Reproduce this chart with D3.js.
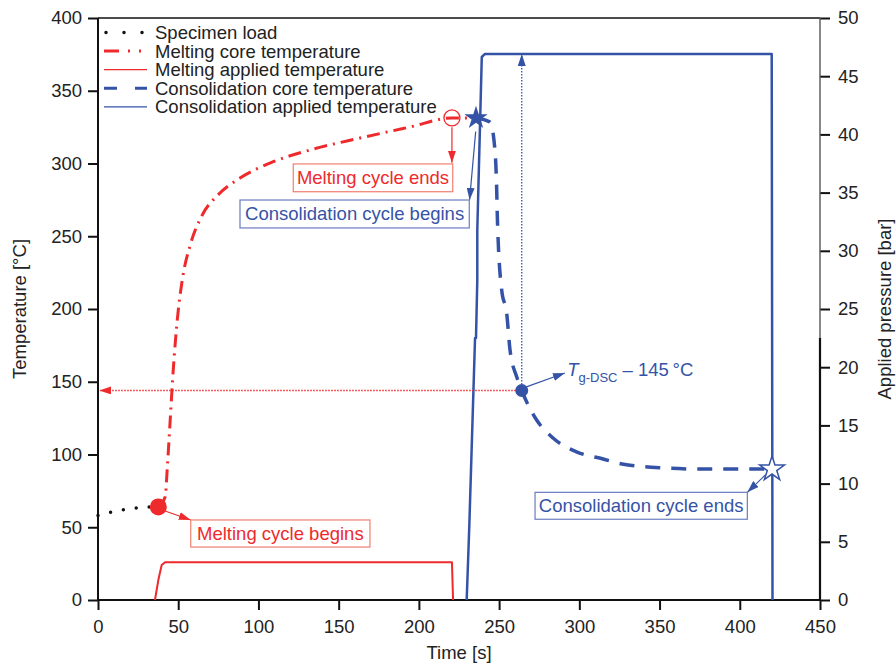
<!DOCTYPE html>
<html>
<head>
<meta charset="utf-8">
<script src="https://cdn.jsdelivr.net/npm/d3@7"></script>
<style>
  html, body { margin: 0; padding: 0; background: #fff; }
  svg { display: block; font-family: "Liberation Sans", Arial, sans-serif; }
</style>
</head>
<body>
<svg id="chart" width="896" height="664"></svg>
<script>
// time [s] / temperature [°C] pairs
const specimenLoadTime = [0, 9.3, 17.9, 27.2, 37.4];
const specimenLoadTemp = [58, 60.7, 62.3, 63.7, 64.1];

const meltCoreTime = [37.6, 41.9, 43.1, 45.0, 46.9, 49.4, 52.5, 57.5, 65.0, 74.8, 88.5, 107.2, 132.1, 163.3, 194.5, 220.6, 235.6];
const meltCoreTemp = [64, 71, 89.3, 123.7, 158.1, 192.4, 219.9, 244.0, 264.6, 278.4, 290.0, 300.3, 309.3, 317.5, 325.1, 331.3, 331.3];

const meltAppliedTime = [35.5, 37.6, 39.7, 41.8, 60, 100, 150, 200, 220.6, 221.3];
const meltAppliedTemp = [0, 13.7, 24, 25.9, 26, 26, 26, 26, 26, 0];

const consCoreTime = [235.6, 244.3, 247.4, 248.5, 248.9, 251.6, 254.7, 256.8, 261.0, 264.1, 267.2, 273.4, 283.6, 298.6, 314.8, 326.6, 353.4, 375.2, 420.1];
const consCoreTemp = [331.3, 328.5, 309.3, 281.8, 263.2, 213.1, 197.3, 171.8, 153.3, 144, 136.1, 123.7, 111.3, 101.7, 96.9, 93.5, 90.7, 90.0, 90.0];

const consAppliedTime = [229.8, 231.4, 235.0, 235.6, 236.4, 236.4, 239.2, 241.2, 300, 350, 400, 419.9, 420.4];
const consAppliedTemp = [0, 50.2, 180.1, 180.1, 219.9, 254.3, 373.2, 375.3, 375.3, 375.3, 375.3, 375.3, 0];

const xTicks = [0, 50, 100, 150, 200, 250, 300, 350, 400, 450];
const yTicks = [0, 50, 100, 150, 200, 250, 300, 350, 400];
const pressureTicks = [0, 5, 10, 15, 20, 25, 30, 35, 40, 45, 50];

const legendLabels = ["Specimen load", "Melting core temperature", "Melting applied temperature",
                      "Consolidation core temperature", "Consolidation applied temperature"];

// key points: melting begins, melting ends, consolidation begins, Tg point, consolidation ends
const meltStart = [37.6, 64];
const meltEnd = [220.6, 331.3];
const consStart = [235.6, 331.3];
const tgPoint = [264.1, 144];
const consEnd = [420.1, 90];

const RED = "#ee2a2c";
const BLUE = "#3553a6";
const FS = "18.5px";

const svg = d3.select("#chart");
const x = d3.scaleLinear().domain([0, 450]).range([98, 820]);
const y = d3.scaleLinear().domain([0, 400]).range([600, 18]);
const yR = d3.scaleLinear().domain([0, 50]).range([600, 18]);

// arrow heads
const defs = svg.append("defs");
[["arRed", RED], ["arBlue", BLUE]].forEach(([id, c]) => {
  defs.append("marker")
    .attr("id", id)
    .attr("viewBox", "0 0 12 8")
    .attr("refX", 12).attr("refY", 4)
    .attr("markerWidth", 12).attr("markerHeight", 8)
    .attr("markerUnits", "userSpaceOnUse")
    .attr("orient", "auto")
    .append("path").attr("d", "M0,0L12,4L0,8Z").attr("fill", c);
});

// axes
const axisX = svg.append("g").attr("transform", "translate(0,600)")
  .call(d3.axisBottom(x).tickValues(xTicks).tickSize(10).tickPadding(6));
const axisL = svg.append("g").attr("transform", "translate(98,0)")
  .call(d3.axisLeft(y).tickValues(yTicks).tickSize(10).tickPadding(6));
const axisR = svg.append("g").attr("transform", "translate(820,0)")
  .call(d3.axisRight(yR).tickValues(pressureTicks).tickSize(10).tickPadding(8));

[axisX, axisL, axisR].forEach(g => {
  g.select(".domain").remove();
  g.selectAll(".tick line").attr("stroke", "#111").attr("stroke-width", 2);
  g.selectAll(".tick text").attr("fill", "#222").style("font-size", FS);
});
axisX.selectAll(".tick text").attr("dy", "0.9em");

// frame
svg.append("line").attr("x1", 98).attr("x2", 820).attr("y1", 600).attr("y2", 600).attr("stroke", "#111").attr("stroke-width", 2);
svg.append("line").attr("x1", 98).attr("x2", 98).attr("y1", 18).attr("y2", 600).attr("stroke", "#111").attr("stroke-width", 2);
svg.append("line").attr("x1", 98).attr("x2", 820).attr("y1", 18).attr("y2", 18).attr("stroke", "#111").attr("stroke-width", 1.5);
svg.append("line").attr("x1", 820).attr("x2", 820).attr("y1", 18).attr("y2", 338).attr("stroke", "#555").attr("stroke-width", 1.4);
svg.append("line").attr("x1", 820).attr("x2", 820).attr("y1", 338).attr("y2", 600).attr("stroke", "#111").attr("stroke-width", 2.2);

// axis titles
svg.append("text").attr("x", 459).attr("y", 659).attr("text-anchor", "middle")
  .attr("fill", "#222").style("font-size", FS).text("Time [s]");
svg.append("text").attr("transform", "translate(26,309) rotate(-90)").attr("text-anchor", "middle")
  .attr("fill", "#222").style("font-size", FS).text("Temperature [°C]");
svg.append("text").attr("transform", "translate(891,309) rotate(-90)").attr("text-anchor", "middle")
  .attr("fill", "#222").style("font-size", FS).text("Applied pressure [bar]");

// series
const zip = (a, b) => a.map((v, i) => [v, b[i]]);
const straight = d3.line().x(d => x(d[0])).y(d => y(d[1]));
const smooth = d3.line().curve(d3.curveMonotoneX).x(d => x(d[0])).y(d => y(d[1]));

const series = [
  { t: meltAppliedTime, v: meltAppliedTemp, color: RED, width: 2, dash: null, gen: straight },
  { t: consAppliedTime, v: consAppliedTemp, color: BLUE, width: 2.5, dash: null, gen: straight },
  { t: specimenLoadTime, v: specimenLoadTemp, color: "#111", width: 3.5, dash: "0,13", cap: "round", gen: smooth },
  { t: meltCoreTime, v: meltCoreTemp, color: RED, width: 3, dash: "13,6,2,6", gen: smooth },
  { t: consCoreTime, v: consCoreTemp, color: BLUE, width: 3.5, dash: "15,11", gen: smooth }
];
series.forEach(s => {
  svg.append("path")
    .datum(zip(s.t, s.v))
    .attr("d", s.gen)
    .attr("fill", "none")
    .attr("stroke", s.color)
    .attr("stroke-width", s.width)
    .attr("stroke-dasharray", s.dash)
    .attr("stroke-linecap", s.cap || "butt")
    .attr("stroke-linejoin", "round");
});

// dotted guide arrows from the Tg point
svg.append("line")
  .attr("x1", x(tgPoint[0])).attr("y1", y(tgPoint[1]))
  .attr("x2", x(tgPoint[0])).attr("y2", y(375.3))
  .attr("stroke", BLUE).attr("stroke-width", 1.3).attr("stroke-dasharray", "1.5,1.5")
  .attr("marker-end", "url(#arBlue)");
svg.append("line")
  .attr("x1", x(tgPoint[0])).attr("y1", y(tgPoint[1]))
  .attr("x2", x(0.8)).attr("y2", y(tgPoint[1]))
  .attr("stroke", RED).attr("stroke-width", 1.3).attr("stroke-dasharray", "1.5,1.5")
  .attr("marker-end", "url(#arRed)");

// annotation arrows [t1, T1, t2, T2, colour]
const arrows = [
  [41.8, 61.2, 57.8, 55, RED],
  [220.6, 325, 220.6, 300.5, RED],
  [235.4, 322, 231.6, 275, BLUE],
  [267, 146.5, 291, 156, BLUE],
  [416, 86, 404.7, 74, BLUE]
];
arrows.forEach(a => {
  svg.append("line")
    .attr("x1", x(a[0])).attr("y1", y(a[1]))
    .attr("x2", x(a[2])).attr("y2", y(a[3]))
    .attr("stroke", a[4]).attr("stroke-width", 1.2)
    .attr("marker-end", a[4] === RED ? "url(#arRed)" : "url(#arBlue)");
});

// markers
svg.append("circle").attr("cx", x(meltStart[0])).attr("cy", y(meltStart[1])).attr("r", 8.5).attr("fill", RED);
svg.append("circle").attr("cx", x(meltEnd[0])).attr("cy", y(meltEnd[1])).attr("r", 8)
  .attr("fill", "none").attr("stroke", RED).attr("stroke-width", 1.3);
svg.append("path").attr("d", d3.symbol(d3.symbolStar, 170)())
  .attr("transform", `translate(${x(consStart[0])},${y(consStart[1])})`).attr("fill", BLUE);
svg.append("circle").attr("cx", x(tgPoint[0])).attr("cy", y(tgPoint[1])).attr("r", 6.5).attr("fill", BLUE);
svg.append("path").attr("d", d3.symbol(d3.symbolStar, 190)())
  .attr("transform", `translate(${x(consEnd[0])},${y(consEnd[1])})`)
  .attr("fill", "#fff").attr("stroke", BLUE).attr("stroke-width", 1.5);

// labelled boxes [t0, T0, t1, T1, text, colour, border]
const boxes = [
  [57.8, 55, 169.5, 36.4, "Melting cycle begins", RED, "#f07f70"],
  [121.7, 299.7, 221.1, 280.6, "Melting cycle ends", RED, "#f07f70"],
  [88.5, 274.9, 231.4, 255.7, "Consolidation cycle begins", BLUE, "#6a7cc0"],
  [272.4, 74, 404.7, 55.5, "Consolidation cycle ends", BLUE, "#6a7cc0"]
];
boxes.forEach(b => {
  const x0 = x(b[0]), x1 = x(b[2]), y0 = y(b[1]), y1 = y(b[3]);
  svg.append("rect").attr("x", x0).attr("y", y0).attr("width", x1 - x0).attr("height", y1 - y0)
    .attr("fill", "#fff").attr("stroke", b[6]).attr("stroke-width", 1.2);
  svg.append("text").attr("x", (x0 + x1) / 2).attr("y", (y0 + y1) / 2 + 6.5)
    .attr("text-anchor", "middle").attr("fill", b[5]).style("font-size", FS).text(b[4]);
});

// Tg label
const tg = svg.append("text").attr("x", x(292.4)).attr("y", 376).attr("fill", BLUE).style("font-size", FS);
tg.append("tspan").style("font-style", "italic").text("T");
tg.append("tspan").attr("dy", 6).style("font-size", "13px").text("g-DSC");
tg.append("tspan").attr("dy", -6).text(" \u2013 145\u2009°C");

// legend
const legendStyles = [
  { color: "#111", width: 3.5, dash: "0,18", cap: "round" },
  { color: RED, width: 3, dash: "15,9,2,9,2,9" },
  { color: RED, width: 1.3, dash: null },
  { color: BLUE, width: 3, dash: "13,18" },
  { color: BLUE, width: 1.3, dash: null }
];
const legend = svg.append("g");
legendLabels.forEach((lab, i) => {
  const ly = 32.5 + i * 18.6;
  const st = legendStyles[i];
  legend.append("line").attr("x1", st.cap ? 106 : 104).attr("x2", 147).attr("y1", ly).attr("y2", ly)
    .attr("stroke", st.color).attr("stroke-width", st.width)
    .attr("stroke-dasharray", st.dash).attr("stroke-linecap", st.cap || "butt");
  legend.append("text").attr("x", 155).attr("y", ly + 6.5).attr("fill", "#222")
    .style("font-size", FS).text(lab);
});
</script>
</body>
</html>
